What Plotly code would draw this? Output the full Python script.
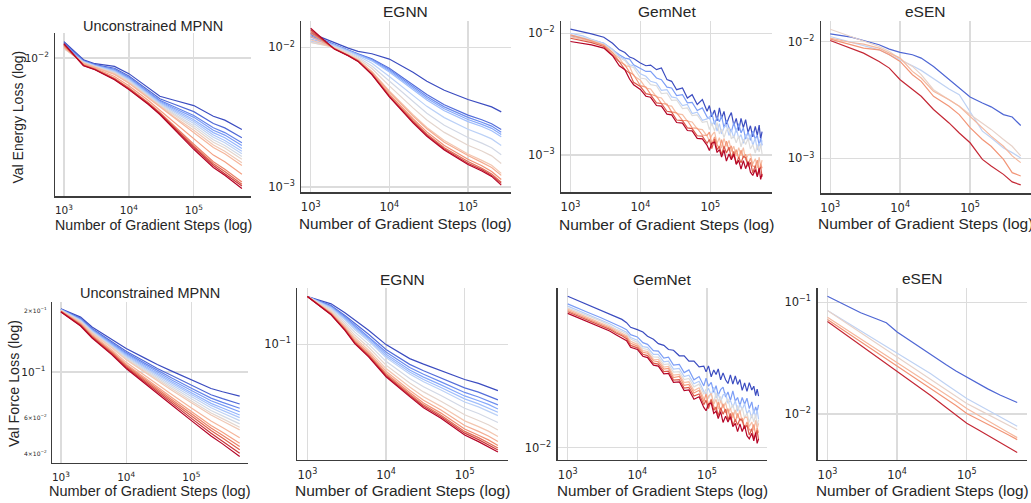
import math
import plotly.graph_objects as go

W, H = 1031, 503
FONT = "Liberation Sans, Arial, Helvetica, sans-serif"
TICKFONT = "DejaVu Sans, Liberation Sans, sans-serif"
TXT = "#262626"
GRID = "#dcdcdc"
SPINE = "#3c3c3c"

# ---------------- data ----------------
titles = ["Unconstrained MPNN", "EGNN", "GemNet", "eSEN"]
xlabel = "Number of Gradient Steps (log)"
ylabel_energy = "Val Energy Loss (log)"
ylabel_force = "Val Force Loss (log)"

# Unconstrained MPNN
steps_mpnn = [1e3, 2e3, 3e3, 6e3, 1e4, 2e4, 3e4, 5e4, 1e5, 2e5, 3e5, 5.5e5]
mpnn_energy_milli = [  # values x 1e-3
    [12.9, 9.75, 9.17, 8.80, 7.87, 6.31, 5.55, 5.22, 4.81, 4.08, 3.84, 3.33],
    [12.7, 9.62, 9.05, 8.55, 7.60, 6.09, 5.34, 4.91, 4.38, 3.65, 3.41, 2.93],
    [12.5, 9.55, 8.98, 8.40, 7.45, 5.96, 5.21, 4.72, 4.13, 3.42, 3.17, 2.71],
    [12.3, 9.51, 8.94, 8.32, 7.36, 5.89, 5.14, 4.62, 4.01, 3.29, 3.05, 2.60],
    [12.0, 9.47, 8.90, 8.24, 7.28, 5.82, 5.07, 4.53, 3.87, 3.17, 2.93, 2.48],
    [11.8, 9.43, 8.87, 8.17, 7.19, 5.75, 5.01, 4.43, 3.76, 3.05, 2.81, 2.38],
    [11.7, 9.39, 8.83, 8.09, 7.11, 5.69, 4.95, 4.34, 3.65, 2.95, 2.71, 2.29],
    [11.6, 9.35, 8.79, 8.01, 7.03, 5.61, 4.88, 4.24, 3.53, 2.84, 2.60, 2.19],
    [11.6, 9.30, 8.75, 7.94, 6.95, 5.55, 4.81, 4.16, 3.42, 2.73, 2.50, 2.10],
    [11.7, 9.26, 8.71, 7.84, 6.85, 5.47, 4.74, 4.05, 3.29, 2.62, 2.38, 1.99],
    [11.8, 9.22, 8.67, 7.77, 6.78, 5.41, 4.68, 3.98, 3.19, 2.52, 2.29, 1.91],
    [12.0, 9.10, 8.56, 7.53, 6.53, 5.20, 4.48, 3.71, 2.89, 2.24, 2.02, 1.67],
    [12.2, 8.99, 8.45, 7.34, 6.32, 5.03, 4.33, 3.50, 2.65, 2.02, 1.80, 1.48],
    [12.3, 8.95, 8.42, 7.28, 6.26, 4.98, 4.28, 3.44, 2.57, 1.96, 1.74, 1.43],
    [12.4, 8.92, 8.39, 7.22, 6.21, 4.93, 4.24, 3.39, 2.52, 1.91, 1.69, 1.39],
    [12.5, 8.89, 8.36, 7.17, 6.15, 4.89, 4.19, 3.33, 2.45, 1.85, 1.64, 1.34],
]
mpnn_force = [
    [.2037, .1853, .1657, .1442, .1300, .1161, .1086, .1008, .0911, .0829, .0799, .0761],
    [.2027, .1829, .1630, .1410, .1262, .1117, .1039, .0959, .0858, .0773, .0739, .0696],
    [.2023, .1816, .1616, .1393, .1242, .1094, .1015, .0932, .0831, .0744, .0709, .0663],
    [.2019, .1805, .1606, .1380, .1226, .1076, .0998, .0913, .0810, .0722, .0687, .0638],
    [.2015, .1796, .1594, .1367, .1212, .1059, .0980, .0894, .0790, .0701, .0665, .0615],
    [.2011, .1788, .1586, .1357, .1200, .1046, .0965, .0880, .0774, .0685, .0648, .0597],
    [.2006, .1779, .1576, .1345, .1186, .1031, .0950, .0863, .0757, .0667, .0629, .0577],
    [.2002, .1770, .1566, .1332, .1171, .1015, .0933, .0845, .0738, .0647, .0609, .0556],
    [.1998, .1760, .1554, .1321, .1157, .0998, .0917, .0828, .0720, .0629, .0590, .0535],
    [.1994, .1751, .1546, .1311, .1145, .0986, .0904, .0813, .0705, .0615, .0575, .0520],
    [.1986, .1729, .1523, .1283, .1113, .0950, .0867, .0775, .0666, .0575, .0534, .0476],
    [.1980, .1714, .1505, .1263, .1091, .0924, .0841, .0748, .0639, .0546, .0506, .0447],
    [.1976, .1705, .1495, .1250, .1076, .0909, .0825, .0733, .0623, .0531, .0489, .0431],
    [.1972, .1695, .1485, .1239, .1063, .0895, .0810, .0718, .0608, .0516, .0474, .0415],
    [.1968, .1686, .1475, .1227, .1050, .0881, .0796, .0703, .0592, .0501, .0459, .0400],
    [.1963, .1676, .1465, .1215, .1038, .0867, .0781, .0688, .0577, .0485, .0444, .0385],
]

# EGNN
steps_egnn = [1e3, 2e3, 3e3, 4e3, 6e3, 1e4, 2e4, 3e4, 5e4, 1e5, 1.5e5, 2e5, 2.65e5]
egnn_energy_milli = [  # values x 1e-3
    [12.65, 10.74, 9.89, 9.36, 9.01, 8.25, 6.63, 5.72, 4.93, 4.23, 3.96, 3.75, 3.45],
    [12.39, 10.48, 9.59, 9.00, 8.29, 7.10, 5.42, 4.60, 3.88, 3.27, 3.03, 2.84, 2.58],
    [12.11, 10.45, 9.55, 8.95, 8.19, 6.94, 5.26, 4.45, 3.75, 3.15, 2.91, 2.73, 2.47],
    [11.85, 10.42, 9.51, 8.90, 8.10, 6.80, 5.13, 4.32, 3.63, 3.04, 2.81, 2.63, 2.38],
    [11.47, 10.39, 9.47, 8.85, 8.01, 6.67, 4.99, 4.20, 3.52, 2.94, 2.71, 2.53, 2.29],
    [11.10, 10.27, 9.34, 8.69, 7.69, 6.19, 4.53, 3.78, 3.14, 2.59, 2.37, 2.21, 1.98],
    [10.86, 10.14, 9.19, 8.51, 7.36, 5.72, 4.07, 3.37, 2.77, 2.26, 2.06, 1.91, 1.70],
    [10.86, 10.02, 9.05, 8.34, 7.06, 5.30, 3.69, 3.02, 2.46, 1.99, 1.81, 1.67, 1.47],
    [11.34, 9.88, 8.89, 8.16, 6.74, 4.87, 3.29, 2.67, 2.15, 1.72, 1.55, 1.43, 1.25],
    [11.98, 9.86, 8.86, 8.12, 6.68, 4.79, 3.22, 2.61, 2.09, 1.68, 1.50, 1.38, 1.21],
    [12.65, 9.81, 8.80, 8.05, 6.55, 4.63, 3.08, 2.48, 1.98, 1.58, 1.42, 1.29, 1.13],
    [13.01, 9.77, 8.76, 8.00, 6.47, 4.52, 2.98, 2.40, 1.91, 1.52, 1.36, 1.24, 1.08],
    [13.37, 9.74, 8.73, 7.97, 6.42, 4.46, 2.93, 2.35, 1.87, 1.48, 1.33, 1.21, 1.06],
    [13.74, 9.73, 8.72, 7.94, 6.38, 4.42, 2.88, 2.31, 1.84, 1.45, 1.30, 1.19, 1.03],
]
egnn_force = [
    [.2089, .1867, .1626, .1460, .1240, .0995, .0802, .0736, .0664, .0581, .0547, .0520, .0489],
    [.2089, .1820, .1561, .1381, .1166, .0923, .0734, .0665, .0594, .0511, .0478, .0452, .0424],
    [.2089, .1796, .1527, .1340, .1128, .0887, .0699, .0630, .0560, .0476, .0444, .0420, .0393],
    [.2089, .1775, .1501, .1310, .1099, .0859, .0673, .0603, .0535, .0451, .0419, .0396, .0369],
    [.2089, .1761, .1478, .1283, .1074, .0836, .0652, .0581, .0514, .0431, .0399, .0376, .0351],
    [.2089, .1744, .1457, .1257, .1050, .0814, .0632, .0561, .0494, .0411, .0381, .0358, .0333],
    [.2089, .1710, .1413, .1206, .1003, .0769, .0591, .0520, .0454, .0373, .0344, .0322, .0299],
    [.2089, .1677, .1367, .1153, .0955, .0725, .0551, .0480, .0416, .0337, .0309, .0289, .0267],
    [.2089, .1647, .1328, .1110, .0914, .0688, .0517, .0446, .0384, .0307, .0281, .0262, .0241],
    [.2089, .1624, .1299, .1076, .0884, .0660, .0493, .0422, .0363, .0286, .0261, .0243, .0223],
    [.2089, .1606, .1276, .1051, .0861, .0639, .0475, .0405, .0346, .0271, .0246, .0229, .0210],
    [.2089, .1594, .1262, .1035, .0846, .0626, .0463, .0393, .0335, .0261, .0237, .0220, .0202],
    [.2089, .1585, .1250, .1022, .0835, .0616, .0454, .0385, .0327, .0254, .0230, .0213, .0196],
    [.2089, .1577, .1240, .1010, .0823, .0606, .0446, .0376, .0320, .0247, .0223, .0207, .0190],
]

# GemNet (noisy curves)
steps_gemnet = [1000, 1500, 2000, 3000, 4000, 5000, 6000, 7000, 8000, 10000, 12000, 14000,
                17000, 20000, 24000, 28000, 33000, 40000, 47000, 55000, 65000, 77000, 90000,
                97000, 105000, 115000, 125000, 135000, 145000, 157000, 170000, 185000, 200000,
                217000, 235000, 255000, 275000, 297000, 320000, 347000, 375000, 405000, 440000,
                470000, 500000, 525000, 550000]
gemnet_energy_milli = [  # values x 1e-3
    [10.82, 10.32, 9.87, 9.27, 8.28, 7.31, 6.95, 6.37, 6.21, 5.69, 5.41, 5.48, 5.02, 5.18, 4.16, 4.03, 3.44, 3.55, 2.94, 3.13, 2.60, 2.85, 2.29,
     2.55, 2.06, 2.34, 1.91, 2.44, 2.00, 2.28, 1.79, 2.04, 2.23, 1.75, 2.00, 1.59, 2.00, 1.68, 1.95, 1.53, 1.74, 1.41, 1.72, 1.45, 1.76, 1.35, 1.56],
    [9.51, 9.10, 8.82, 8.28, 7.31, 6.65, 6.25, 6.13, 5.51, 5.18, 4.86, 4.86, 4.29, 4.16, 3.61, 3.55, 3.08, 3.13, 2.68, 2.71, 2.32, 2.44, 2.05,
     1.99, 2.23, 1.79, 2.05, 1.88, 2.09, 1.68, 1.93, 1.68, 1.55, 1.85, 1.54, 1.81, 1.52, 1.67, 1.35, 1.56, 1.32, 1.57, 1.35, 1.46, 1.20, 1.38, 1.20],
    [10.0, 9.51, 8.93, 8.28, 7.40, 6.45, 6.13, 5.51, 5.41, 4.65, 4.43, 4.03, 3.90, 3.40, 3.44, 3.00, 2.94, 2.55, 2.60, 2.19, 2.25, 1.93, 1.98,
     2.06, 1.76, 1.91, 1.57, 1.81, 1.49, 1.68, 1.76, 1.45, 1.61, 1.38, 1.66, 1.37, 1.47, 1.25, 1.48, 1.31, 1.47, 1.20, 1.38, 1.10, 1.26, 1.15, 1.32],
    [9.69, 9.27, 8.82, 8.13, 7.22, 6.25, 5.98, 5.34, 5.24, 4.29, 4.21, 3.78, 3.71, 3.19, 3.23, 2.81, 2.83, 2.41, 2.44, 2.11, 2.14, 1.86, 1.89,
     1.62, 1.82, 1.58, 1.85, 1.49, 1.64, 1.39, 1.60, 1.66, 1.36, 1.44, 1.26, 1.44, 1.17, 1.35, 1.22, 1.37, 1.12, 1.22, 1.04, 1.22, 1.06, 1.23, 1.02],
    [9.39, 8.93, 8.55, 8.03, 6.86, 6.25, 5.41, 5.34, 4.48, 4.11, 3.55, 3.49, 3.00, 2.94, 2.55, 2.52, 2.19, 2.15, 1.90, 1.87, 1.64, 1.62, 1.43,
     1.31, 1.45, 1.55, 1.25, 1.39, 1.14, 1.37, 1.18, 1.32, 1.07, 1.18, 0.980, 1.15, 0.988, 1.15, 0.909, 1.006, 1.016, 0.844, 0.933, 0.786, 0.960, 0.813, 0.910],
    [9.69, 9.10, 8.66, 7.98, 6.95, 5.87, 5.51, 4.77, 4.57, 3.71, 3.61, 3.15, 3.04, 2.65, 2.62, 2.26, 2.22, 1.93, 1.92, 1.67, 1.66, 1.46, 1.45,
     1.54, 1.23, 1.41, 1.22, 1.13, 1.34, 1.11, 1.30, 1.09, 1.19, 0.957, 1.11, 0.930, 1.10, 0.949, 1.016, 0.833, 0.944, 0.812, 0.809, 0.909, 0.733, 0.848, 0.780],
    [9.10, 8.71, 8.38, 7.78, 6.65, 5.83, 5.02, 4.71, 3.95, 3.66, 3.19, 3.13, 2.68, 2.65, 2.29, 2.25, 1.94, 1.92, 1.67, 1.65, 1.44, 1.43, 1.25,
     1.34, 1.13, 1.35, 1.11, 1.18, 1.009, 1.18, 1.04, 1.16, 0.937, 1.07, 0.848, 0.959, 0.863, 0.977, 0.953, 0.808, 0.873, 0.716, 0.819, 0.674, 0.758, 0.799, 0.662],
    [8.55, 8.28, 8.03, 7.54, 6.53, 5.41, 5.02, 4.21, 3.78, 3.46, 3.04, 2.98, 2.55, 2.52, 2.17, 2.14, 1.85, 1.83, 1.59, 1.58, 1.37, 1.36, 1.20,
     1.09, 1.25, 1.28, 1.05, 1.11, 0.965, 1.10, 0.894, 1.02, 0.917, 1.02, 0.838, 0.905, 0.768, 0.899, 0.773, 0.883, 0.724, 0.681, 0.760, 0.662, 0.780, 0.631, 0.697],
]
gemnet_force_centi = [  # values x 1e-2
    [8.23, 7.65, 7.30, 6.81, 6.45, 6.15, 5.96, 5.69, 5.34, 5.17, 5.00, 4.71, 4.52, 4.25, 4.15, 3.92, 3.88, 3.59, 3.59, 3.33, 3.33, 3.08, 3.11,
     2.87, 3.12, 2.68, 2.95, 2.77, 2.99, 2.57, 2.83, 2.57, 2.44, 2.75, 2.42, 2.71, 2.41, 2.58, 2.22, 2.46, 2.19, 2.47, 2.23, 2.35, 2.06, 2.26, 2.05],
    [7.40, 6.85, 6.54, 6.10, 5.79, 5.53, 5.34, 5.17, 4.82, 4.67, 4.31, 4.21, 3.86, 3.83, 3.48, 3.52, 3.15, 3.18, 2.84, 2.95, 2.57, 2.69, 2.36,
     2.63, 2.35, 2.48, 2.16, 2.37, 2.07, 2.24, 2.32, 2.02, 2.17, 1.93, 2.20, 1.91, 2.01, 1.79, 2.01, 1.83, 1.99, 1.72, 1.89, 1.61, 1.76, 1.65, 1.81],
    [7.17, 6.66, 6.36, 5.93, 5.61, 5.34, 5.14, 4.98, 4.63, 4.46, 4.08, 4.04, 3.66, 3.66, 3.30, 3.33, 2.98, 3.01, 2.69, 2.74, 2.43, 2.52, 2.19,
     2.12, 2.29, 2.07, 2.32, 1.99, 2.12, 1.89, 2.08, 2.13, 1.85, 1.93, 1.75, 1.92, 1.66, 1.83, 1.70, 1.84, 1.60, 1.69, 1.51, 1.69, 1.53, 1.69, 1.48],
    [7.00, 6.54, 6.24, 5.82, 5.48, 5.19, 5.03, 4.86, 4.54, 4.33, 3.97, 3.92, 3.53, 3.52, 3.18, 3.21, 2.86, 2.88, 2.58, 2.62, 2.33, 2.42, 2.10,
     2.26, 1.98, 2.12, 1.87, 2.15, 1.90, 2.04, 1.76, 1.88, 1.97, 1.70, 1.82, 1.59, 1.80, 1.62, 1.75, 1.51, 1.62, 1.42, 1.59, 1.43, 1.59, 1.36, 1.47],
    [6.88, 6.42, 6.12, 5.71, 5.38, 5.10, 4.91, 4.75, 4.39, 4.21, 3.86, 3.81, 3.42, 3.41, 3.07, 3.10, 2.74, 2.77, 2.47, 2.50, 2.21, 2.30, 1.98,
     1.90, 2.04, 2.13, 1.83, 1.96, 1.71, 1.93, 1.74, 1.87, 1.61, 1.73, 1.51, 1.69, 1.51, 1.68, 1.42, 1.52, 1.53, 1.34, 1.43, 1.27, 1.46, 1.30, 1.40],
    [6.75, 6.30, 6.01, 5.61, 5.29, 5.00, 4.82, 4.67, 4.27, 4.11, 3.77, 3.72, 3.35, 3.30, 2.98, 3.01, 2.65, 2.69, 2.38, 2.41, 2.14, 2.22, 1.90,
     2.11, 1.80, 1.97, 1.78, 1.68, 1.89, 1.65, 1.84, 1.62, 1.72, 1.47, 1.63, 1.43, 1.61, 1.45, 1.51, 1.31, 1.43, 1.28, 1.28, 1.38, 1.19, 1.31, 1.23],
    [6.63, 6.18, 5.91, 5.51, 5.19, 4.91, 4.75, 4.56, 4.15, 4.01, 3.67, 3.60, 3.24, 3.20, 2.88, 2.90, 2.56, 2.58, 2.29, 2.31, 2.05, 2.11, 1.82,
     1.93, 1.72, 1.94, 1.68, 1.76, 1.56, 1.74, 1.59, 1.71, 1.47, 1.61, 1.36, 1.48, 1.37, 1.49, 1.46, 1.30, 1.37, 1.19, 1.30, 1.13, 1.23, 1.27, 1.11],
    [6.48, 6.04, 5.76, 5.38, 5.07, 4.80, 4.60, 4.43, 4.04, 3.92, 3.57, 3.50, 3.15, 3.11, 2.79, 2.81, 2.48, 2.50, 2.21, 2.23, 1.96, 2.03, 1.75,
     1.67, 1.83, 1.86, 1.61, 1.66, 1.50, 1.65, 1.42, 1.55, 1.43, 1.54, 1.34, 1.40, 1.25, 1.39, 1.25, 1.36, 1.18, 1.13, 1.22, 1.10, 1.23, 1.06, 1.13],
]

# eSEN
steps_esen = [1000, 2000, 3000, 5000, 7000, 10000, 15000, 20000, 30000, 50000, 70000,
              100000, 150000, 200000, 300000, 400000, 530000]
esen_energy_milli = [  # values x 1e-3
    [11.62, 10.89, 10.20, 9.37, 8.60, 8.06, 7.70, 7.21, 6.12, 4.71, 4.00, 3.35, 2.98, 2.76, 2.37, 2.26, 1.91],
    [11.03, 9.80, 9.19, 8.49, 7.70, 6.98, 6.20, 5.66, 4.78, 3.93, 3.51, 2.53, 1.71, 1.50, 1.23, 1.12, 1.01],
    [12.74, 11.03, 10.0, 9.07, 8.22, 7.07, 6.12, 5.20, 3.87, 3.18, 2.79, 2.37, 2.01, 1.77, 1.45, 1.27, 1.05],
    [10.68, 9.80, 9.49, 8.77, 7.95, 7.21, 5.55, 4.87, 3.75, 3.18, 2.79, 2.30, 1.83, 1.55, 1.27, 1.05, 0.92],
    [10.47, 9.37, 8.77, 8.49, 7.70, 6.75, 5.20, 4.56, 3.40, 2.79, 2.37, 1.83, 1.45, 1.27, 0.98, 0.755, 0.707],
    [10.20, 8.77, 7.95, 6.75, 5.92, 4.71, 3.87, 3.40, 2.62, 2.01, 1.65, 1.36, 0.98, 0.86, 0.73, 0.629, 0.593],
]
esen_force_centi = [  # values x 1e-2
    [11.31, 9.03, 8.04, 7.11, 6.55, 5.41, 4.56, 4.06, 3.40, 2.77, 2.43, 2.15, 1.84, 1.68, 1.48, 1.36, 1.27],
    [8.43, 6.46, 5.52, 4.56, 3.98, 3.47, 2.98, 2.68, 2.30, 1.85, 1.61, 1.38, 1.20, 1.085, 0.947, 0.855, 0.777],
    [8.43, 6.33, 5.33, 4.35, 3.76, 3.26, 2.75, 2.45, 2.06, 1.67, 1.45, 1.245, 1.09, 0.993, 0.872, 0.793, 0.725],
    [7.35, 5.56, 4.72, 3.84, 3.35, 2.90, 2.46, 2.19, 1.87, 1.52, 1.31, 1.12, 0.973, 0.872, 0.756, 0.682, 0.616],
    [7.01, 5.26, 4.43, 3.59, 3.11, 2.69, 2.27, 2.02, 1.70, 1.37, 1.19, 1.01, 0.891, 0.809, 0.710, 0.650, 0.591],
    [6.73, 4.95, 4.11, 3.28, 2.82, 2.41, 2.01, 1.76, 1.47, 1.15, 0.986, 0.826, 0.716, 0.646, 0.556, 0.502, 0.453],
]

x_tick_exps = [3, 4, 5]
force_minor_ticks = [0.2, 0.06, 0.04]
force_minor_text = ["2\u00d710<sup>\u22121</sup>", "6\u00d710<sup>\u22122</sup>", "4\u00d710<sup>\u22122</sup>"]

# ---------------- style helpers ----------------
_CW = [(59, 76, 192), (98, 130, 234), (141, 176, 254), (184, 208, 249), (221, 220, 220),
       (245, 196, 172), (244, 154, 123), (221, 95, 75), (180, 4, 38)]


def coolwarm(t):
    p = max(0.0, min(1.0, t)) * 8
    i = min(int(p), 7)
    f = p - i
    c = [round(_CW[i][k] + (_CW[i + 1][k] - _CW[i][k]) * f) for k in range(3)]
    return f"rgb({c[0]},{c[1]},{c[2]})"


def pow10(e):
    return "10<sup>" + ("\u2212" if e < 0 else "") + str(abs(e)) + "</sup>"


cpos_mpnn = [i / 15 for i in range(16)]
cpos_egnn = [i / 13 for i in range(14)]
cpos_gemnet = [0.0, 0.2, 0.36, 0.5, 0.64, 0.75, 0.88, 1.0]
cpos_esen = [0.06, 0.4, 0.55, 0.66, 0.76, 0.95]

panels = [
    dict(x=steps_mpnn, ys=mpnn_energy_milli, unit=1e-3, cp=cpos_mpnn, lw=1.2, box=(54.3, 250, 33, 197),
         xr=[2.866, 5.877], yr=[-2.925, -1.831], yt=[-2], title=titles[0], ty=26, tfs=14.5, xly=226, xlfs=14.2, tk=10.5),
    dict(x=steps_egnn, ys=egnn_energy_milli, unit=1e-3, cp=cpos_egnn, lw=1.2, box=(300.7, 510, 21, 193),
         xr=[2.882, 5.541], yr=[-3.038, -1.810], yt=[-2, -3], title=titles[1], ty=12, tfs=15.5, xly=224, xlfs=15.3, tk=11.5),
    dict(x=steps_gemnet, ys=gemnet_energy_milli, unit=1e-3, cp=cpos_gemnet, lw=1.2, box=(560.7, 772, 21, 193),
         xr=[2.867, 5.886], yr=[-3.305, -1.899], yt=[-2, -3], title=titles[2], ty=12, tfs=15.5, xly=225, xlfs=15.5, tk=11.5),
    dict(x=steps_esen, ys=esen_energy_milli, unit=1e-3, cp=cpos_esen, lw=1.2, box=(820.7, 1031, 21, 194),
         xr=[2.867, 5.871], yr=[-3.298, -1.824], yt=[-2, -3], title=titles[3], ty=12, tfs=15.5, xly=224, xlfs=15.5, tk=11.5),
    dict(x=steps_mpnn, ys=mpnn_force, unit=1.0, cp=cpos_mpnn, lw=1.2, box=(51, 247, 303, 465),
         xr=[2.862, 5.864], yr=[-1.447, -0.657], yt=[-1], title=titles[0], ty=294.5, tfs=14.5, xly=493, xlfs=14.5, tk=10.5),
    dict(x=steps_egnn, ys=egnn_force, unit=1.0, cp=cpos_egnn, lw=1.2, box=(296.7, 507, 289, 462),
         xr=[2.873, 5.545], yr=[-1.776, -0.622], yt=[-1], title=titles[1], ty=281, tfs=15.5, xly=492, xlfs=15.5, tk=11.5),
    dict(x=steps_gemnet, ys=gemnet_force_centi, unit=1e-2, cp=cpos_gemnet, lw=1.2, box=(557.3, 766.7, 289, 462),
         xr=[2.857, 5.861], yr=[-2.076, -1.034], yt=[-2], title=titles[2], ty=281, tfs=15.5, xly=492, xlfs=15.2, tk=11.5),
    dict(x=steps_esen, ys=esen_force_centi, unit=1e-2, cp=cpos_esen, lw=1.2, box=(817.3, 1027, 289, 462),
         xr=[2.857, 5.865], yr=[-2.412, -0.872], yt=[-1, -2], title=titles[3], ty=280, tfs=15.5, xly=492, xlfs=15.3, tk=11.5),
]

fig = go.Figure()
annotations = []

for k, p in enumerate(panels, start=1):
    sfx = "" if k == 1 else str(k)
    for ys, t in zip(p["ys"], p["cp"]):
        fig.add_trace(go.Scatter(
            x=p["x"], y=[v * p["unit"] for v in ys], mode="lines",
            line=dict(color=coolwarm(t), width=p["lw"]),
            xaxis="x" + sfx, yaxis="y" + sfx, showlegend=False, hoverinfo="skip"))
    l, r, tp, bt = p["box"]
    xd = [l / W, min(1.0, r / W)]
    yd = [1 - bt / H, 1 - tp / H]
    common = dict(type="log", showgrid=True, gridcolor=GRID, gridwidth=1.3, showline=True,
                  linecolor=SPINE, linewidth=1.3, ticks="", zeroline=False, mirror=False,
                  tickfont=dict(family=TICKFONT, size=p["tk"], color=TXT))
    fig.layout["xaxis" + sfx] = dict(common, domain=xd, range=p["xr"], anchor="y" + sfx,
                                     tickmode="array", tickvals=[10 ** e for e in x_tick_exps],
                                     ticktext=[pow10(e) for e in x_tick_exps], ticklabelstandoff=4)
    fig.layout["yaxis" + sfx] = dict(common, domain=yd, range=p["yr"], anchor="x" + sfx,
                                     tickmode="array", tickvals=[10 ** e for e in p["yt"]],
                                     ticktext=[pow10(e) for e in p["yt"]], ticklabelstandoff=3)
    cx = (l + r) / 2 / W
    annotations.append(dict(text=p["title"], x=cx, y=1 - p["ty"] / H, xref="paper", yref="paper",
                            xanchor="center", yanchor="middle", showarrow=False,
                            font=dict(family=FONT, size=p["tfs"], color=TXT)))
    annotations.append(dict(text=xlabel, x=cx, y=1 - p["xly"] / H, xref="paper", yref="paper",
                            xanchor="center", yanchor="middle", showarrow=False,
                            font=dict(family=FONT, size=p["xlfs"], color=TXT)))

annotations.append(dict(text=ylabel_energy, x=17 / W, y=1 - 117 / H, xref="paper", yref="paper",
                        xanchor="center", yanchor="middle", textangle=-90, showarrow=False,
                        font=dict(family=FONT, size=14, color=TXT)))
annotations.append(dict(text=ylabel_force, x=13.5 / W, y=1 - 385 / H, xref="paper", yref="paper",
                        xanchor="center", yanchor="middle", textangle=-90, showarrow=False,
                        font=dict(family=FONT, size=14.3, color=TXT)))
for v, txt in zip(force_minor_ticks, force_minor_text):
    annotations.append(dict(text=txt, x=48 / W, y=math.log10(v), xref="paper", yref="y5",
                            xanchor="right", yanchor="middle", showarrow=False,
                            font=dict(family=TICKFONT, size=6, color=TXT)))

fig.update_layout(
    width=W, height=H, margin=dict(l=0, r=0, t=0, b=0),
    paper_bgcolor="white", plot_bgcolor="white",
    annotations=annotations, showlegend=False,
    font=dict(family=FONT, color=TXT),
)

fig.write_html("out.html", config={"displayModeBar": False, "staticPlot": True},
               post_script="document.body.style.margin='0';document.body.style.padding='0';"
                           "document.documentElement.style.overflow='hidden';")
